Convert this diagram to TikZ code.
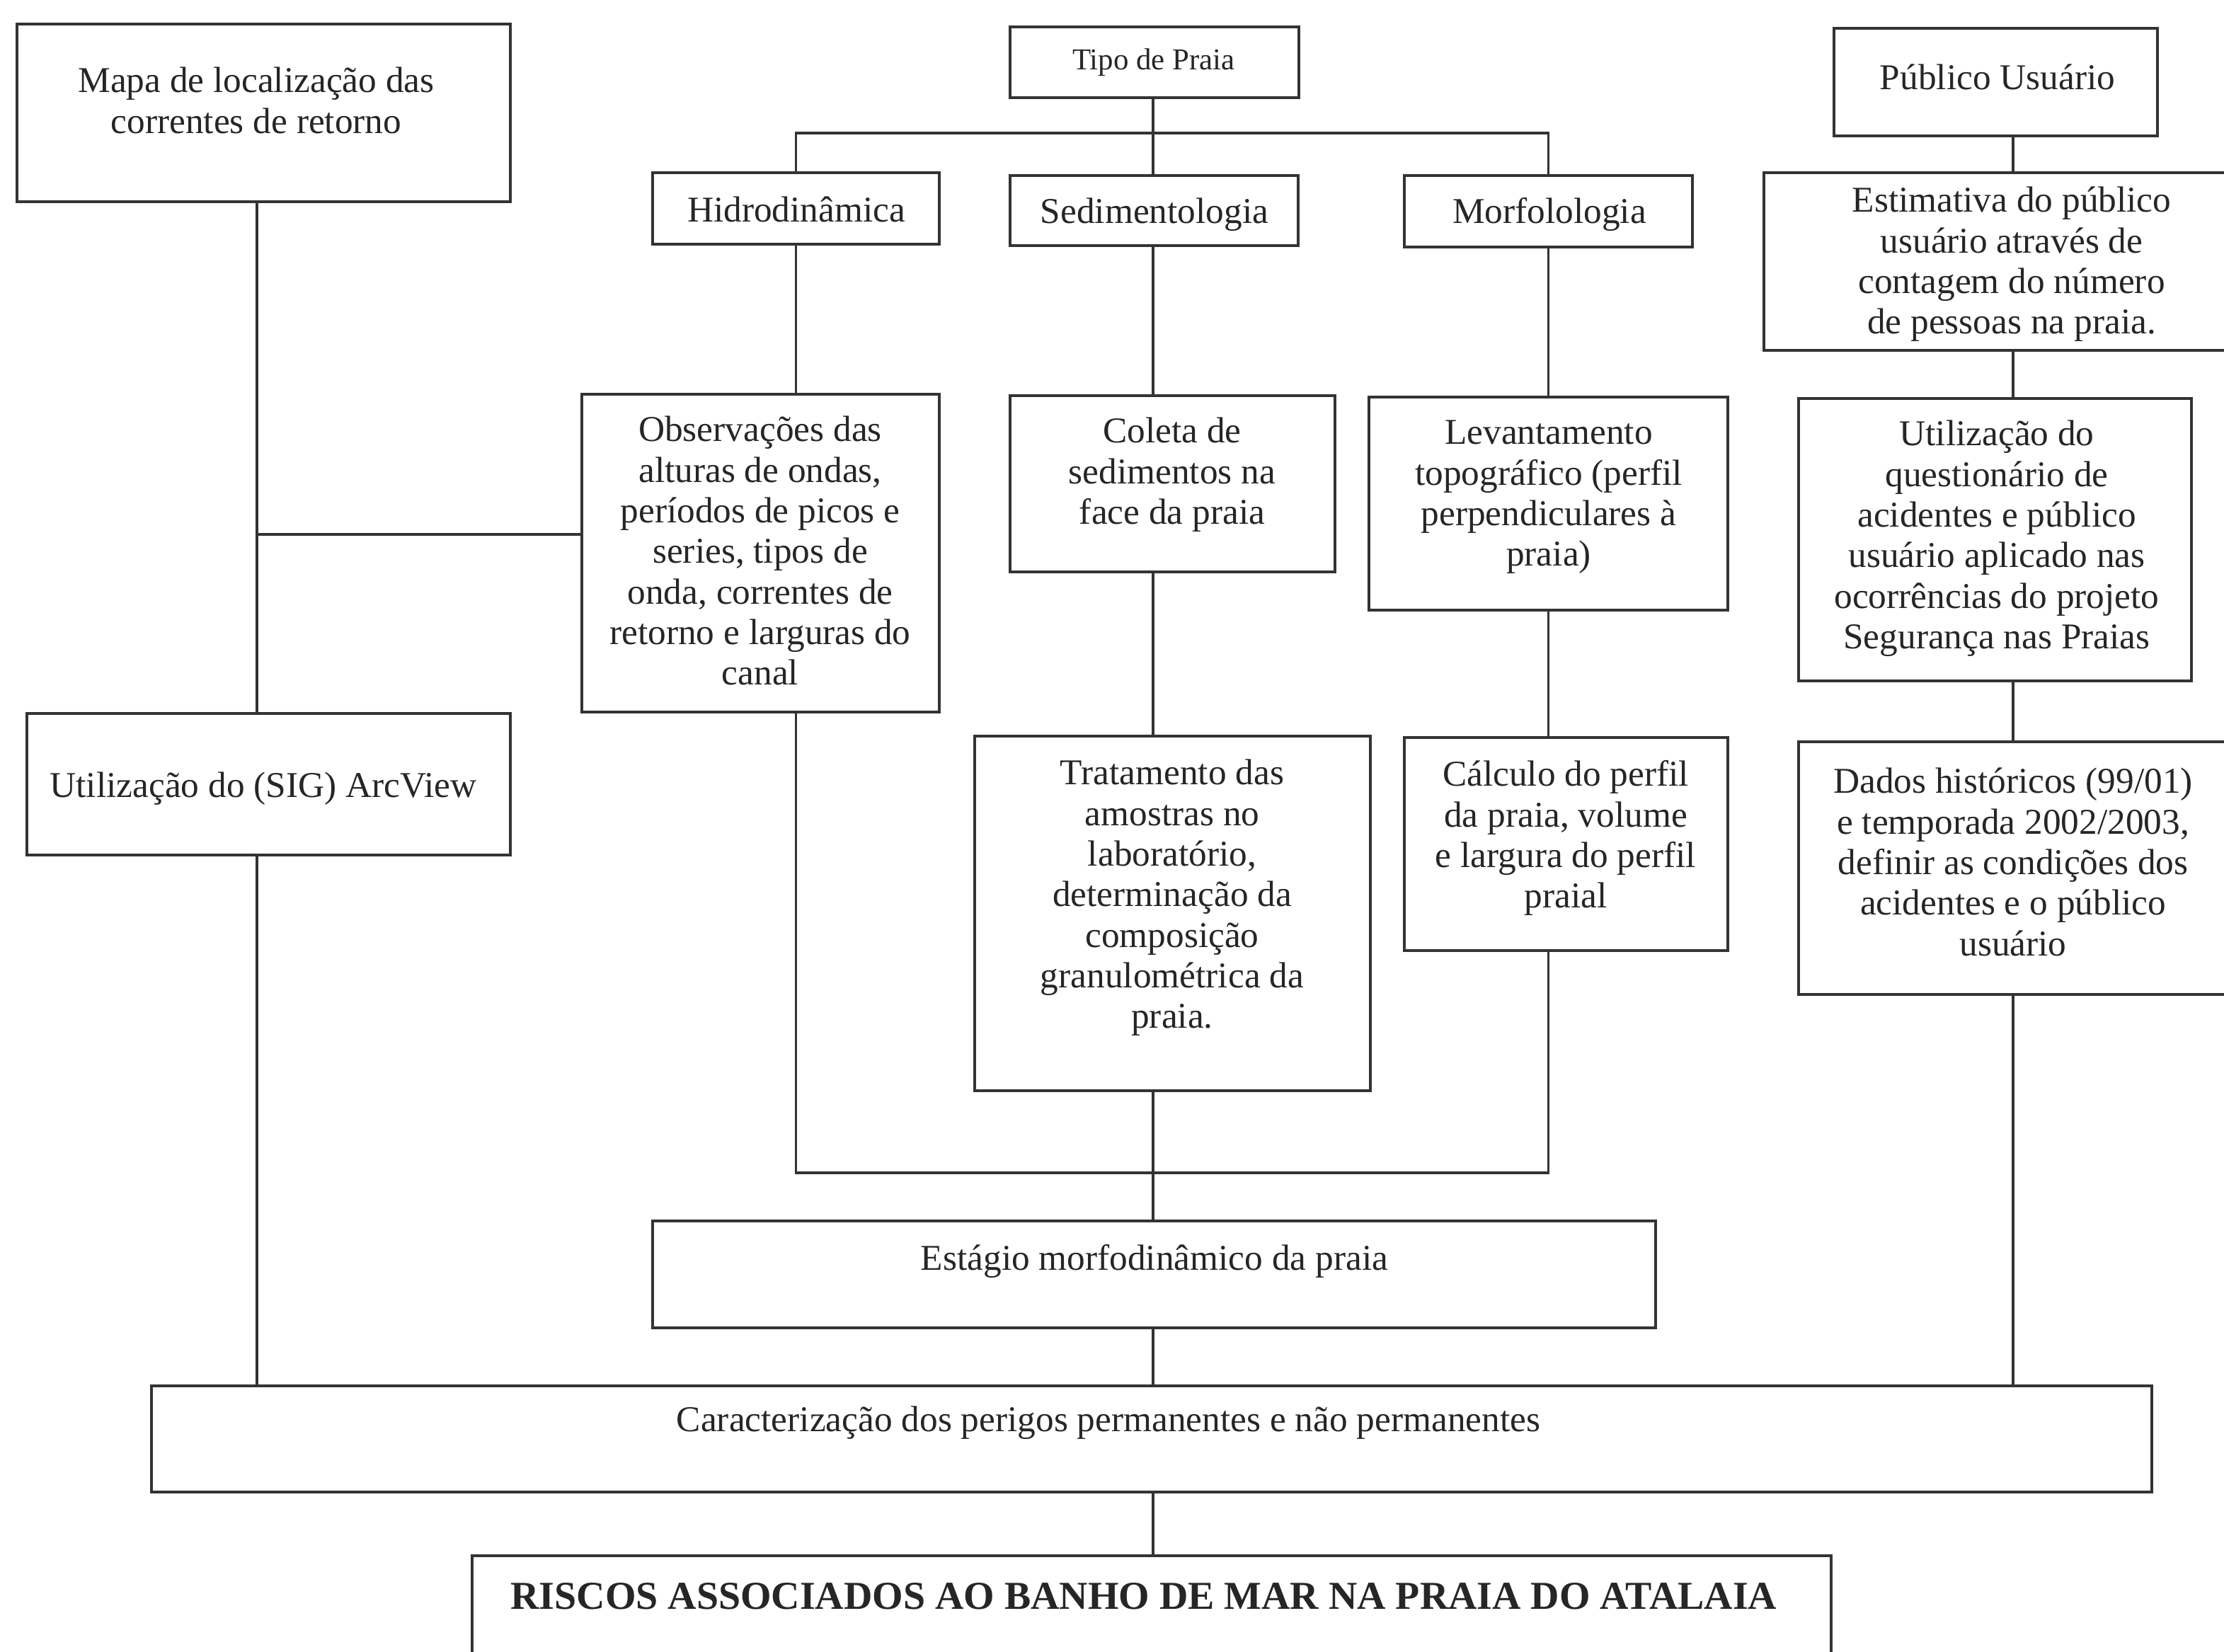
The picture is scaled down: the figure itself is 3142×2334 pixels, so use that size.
\documentclass[tikz,border=0pt]{standalone}
\usepackage{fontspec}
\setmainfont{Liberation Serif}
\usetikzlibrary{fit}
\begin{document}
\begin{tikzpicture}[x=0.01cm,y=-0.01cm,
  box/.style={draw=black!80,line width=1pt,inner sep=0pt,rectangle},
  txt/.style={anchor=north,inner sep=0pt,align=center,text=black!85,
    font=\fontsize{14.6}{16.3}\selectfont},
  smalltxt/.style={txt,font=\fontsize{12.2}{14}\selectfont},
  bigtxt/.style={txt,font=\bfseries\fontsize{15.9}{18}\selectfont},
  conn/.style={draw=black!80,line width=1pt}]
\useasboundingbox (0,0) rectangle (3142,2334);
\clip (0,0) rectangle (3142,2334);
\fill[white] (0,0) rectangle (3142,2334);

% boxes
\node[box,fit={(24,34) (721,285)}] (mapa) {};
\node[box,fit={(1427,38) (1835,138)}] (tipo) {};
\node[box,fit={(2591,40) (3048,192)}] (pub) {};
\node[box,fit={(922,244) (1327,345)}] (hidro) {};
\node[box,fit={(1427,248) (1834,347)}] (sedim) {};
\node[box,fit={(1984,248) (2391,349)}] (morfo) {};
\node[box,fit={(2492,244) (3196,495)}] (est) {};
\node[box,fit={(822,557) (1327,1006)}] (obs) {};
\node[box,fit={(1427,559) (1886,808)}] (coleta) {};
\node[box,fit={(1934,561) (2441,862)}] (lev) {};
\node[box,fit={(2541,563) (3096,962)}] (quest) {};
\node[box,fit={(38,1008) (721,1208)}] (sig) {};
\node[box,fit={(1377,1040) (1936,1541)}] (trat) {};
\node[box,fit={(1984,1042) (2441,1343)}] (calc) {};
\node[box,fit={(2541,1048) (3147,1405)}] (dados) {};
\node[box,fit={(922,1725) (2339,1876)}] (estagio) {};
\node[box,fit={(214,1958) (3040,2108)}] (car) {};
\node[box,fit={(667,2198) (2587,2420)}] (riscos) {};

% texts
\node[txt] (mapaT) at (362,90) {\strut Mapa de localização das\\correntes de retorno};
\node[smalltxt] (tipoT) at (1630,63) {\strut Tipo de Praia};
\node[txt] (pubT) at (2822,86) {\strut Público Usuário};
\node[txt] (hidroT) at (1125,273) {\strut Hidrodinâmica};
\node[txt] (sedimT) at (1631,275) {\strut Sedimentologia};
\node[txt] (morfoT) at (2189,275) {\strut Morfolologia};
\node[txt] (estT) at (2842,259) {\strut Estimativa do público\\usuário através de\\contagem do número\\de pessoas na praia.};
\node[txt] (obsT) at (1074,583) {\strut Observações das\\alturas de ondas,\\períodos de picos e\\series, tipos de\\onda, correntes de\\retorno e larguras do\\canal};
\node[txt] (coletaT) at (1656,585) {\strut Coleta de\\sedimentos na\\face da praia};
\node[txt] (levT) at (2188,587) {\strut Levantamento\\topográfico (perfil\\perpendiculares à\\praia)};
\node[txt] (questT) at (2821,589) {\strut Utilização do\\questionário de\\acidentes e público\\usuário aplicado nas\\ocorrências do projeto\\Segurança nas Praias};
\node[txt] (sigT) at (372,1086) {\strut Utilização do (SIG) ArcView};
\node[txt] (tratT) at (1656,1068) {\strut Tratamento das\\amostras no\\laboratório,\\determinação da\\composição\\granulométrica da\\praia.};
\node[txt] (calcT) at (2212,1070) {\strut Cálculo do perfil\\da praia, volume\\e largura do perfil\\praial};
\node[txt] (dadosT) at (2844,1080) {\strut Dados históricos (99/01)\\e temporada 2002/2003,\\definir as condições dos\\acidentes e o público\\usuário};
\node[txt] (estagioT) at (1631,1754) {\strut Estágio morfodinâmico da praia};
\node[txt] (carT) at (1566,1982) {\strut Caracterização dos perigos permanentes e não permanentes};
\node[bigtxt] (riscosT) at (1616,2228) {\strut RISCOS ASSOCIADOS AO BANHO DE MAR NA PRAIA DO ATALAIA};

% coordinates
\coordinate (busT) at (1629,188);
\coordinate (busB) at (1629,1657);
\coordinate (mcol) at (363,755);

% connectors
\draw[conn] (tipo.south -| busT) -- (busT);
\draw[conn] (hidro.north) |- (busT);
\draw[conn] (busT) -| (morfo.north);
\draw[conn] (sedim.north -| busT) -- (busT);
\draw[conn] (est.north |- pub.south) -- (est.north);
\draw[conn] (est.south) -- (est.south |- quest.north);
\draw[conn] (quest.south -| dados.north) -- (dados.north);
\draw[conn] (dados.south) -- (dados.south |- car.north);
\draw[conn] (hidro.south) -- (obs.north -| hidro.south);
\draw[conn] (sedim.south -| busT) -- (coleta.north -| busT);
\draw[conn] (morfo.south) -- (lev.north -| morfo.south);
\draw[conn] (coleta.south -| busT) -- (trat.north -| busT);
\draw[conn] (lev.south -| morfo.south) -- (calc.north -| morfo.south);
\draw[conn] (obs.south -| hidro.south) -- (busB -| hidro.south) -- (busB -| morfo.south) -- (calc.south -| morfo.south);
\draw[conn] (trat.south -| busT) -- (estagio.north -| busT);
\draw[conn] (mapa.south -| mcol) -- (sig.north -| mcol);
\draw[conn] (mcol) -- (obs.west |- mcol);
\draw[conn] (sig.south -| mcol) -- (car.north -| mcol);
\draw[conn] (estagio.south -| busT) -- (car.north -| busT);
\draw[conn] (car.south -| busT) -- (riscos.north -| busT);
\end{tikzpicture}
\end{document}
